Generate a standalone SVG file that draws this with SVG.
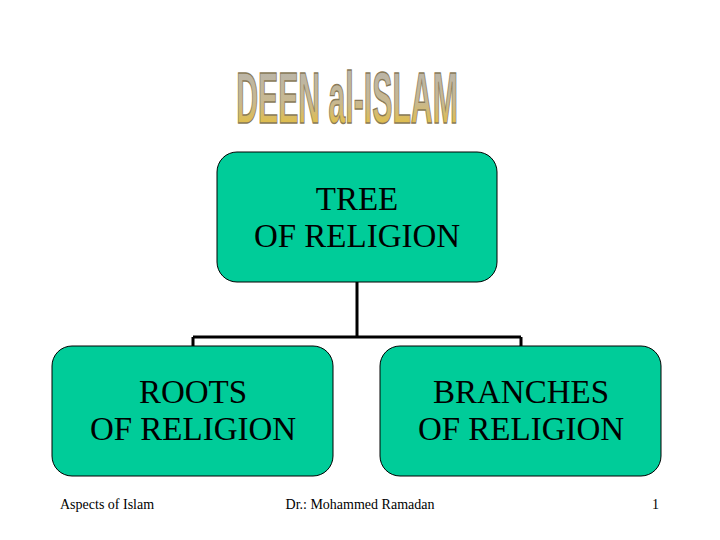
<svg xmlns="http://www.w3.org/2000/svg" width="720" height="540" viewBox="0 0 720 540">
<defs>
<linearGradient id="wa" x1="0" y1="0" x2="0" y2="1">
<stop offset="0" stop-color="#b4b4b4"/>
<stop offset="0.55" stop-color="#c8b890"/>
<stop offset="1" stop-color="#f2c21a"/>
</linearGradient>
<style>
.box{fill:#00CC99;stroke:#000;stroke-width:1}
.lbl{font-size:33px;fill:#000;text-anchor:middle}
.ft{font-size:14px;fill:#000}
.con{fill:none;stroke:#000;stroke-width:3}
</style>
</defs>
<rect width="720" height="540" fill="#fff"/>
<g id="title">
<text transform="translate(347,123) scale(0.42,1)" x="0" y="0" font-family="'Liberation Sans', Arial, sans-serif" font-weight="bold" font-size="72" fill="url(#wa)" stroke="#8a7a58" stroke-width="1.5" text-anchor="middle">DEEN al-ISLAM</text>
</g>
<g id="connectors">
<path class="con" d="M357 282 V337 M193 337 H521 M193 337 V347 M521 337 V347"/>
</g>
<g font-family="'Liberation Serif', 'Times New Roman', serif">
<g id="tree">
<rect class="box" x="217" y="152" width="280" height="130" rx="20"/>
<text class="lbl" x="357" y="210">TREE</text>
<text class="lbl" x="357" y="247">OF RELIGION</text>
</g>
<g id="roots">
<rect class="box" x="52" y="346" width="281" height="130" rx="20"/>
<text class="lbl" x="193" y="403">ROOTS</text>
<text class="lbl" x="193" y="440">OF RELIGION</text>
</g>
<g id="branches">
<rect class="box" x="380" y="346" width="281" height="130" rx="20"/>
<text class="lbl" x="521" y="403">BRANCHES</text>
<text class="lbl" x="521" y="440">OF RELIGION</text>
</g>
<g id="footer">
<text class="ft" x="60" y="509">Aspects of Islam</text>
<text class="ft" x="360" y="509" text-anchor="middle">Dr.: Mohammed Ramadan</text>
<text class="ft" x="659" y="509" text-anchor="end">1</text>
</g>
</g>
</svg>
